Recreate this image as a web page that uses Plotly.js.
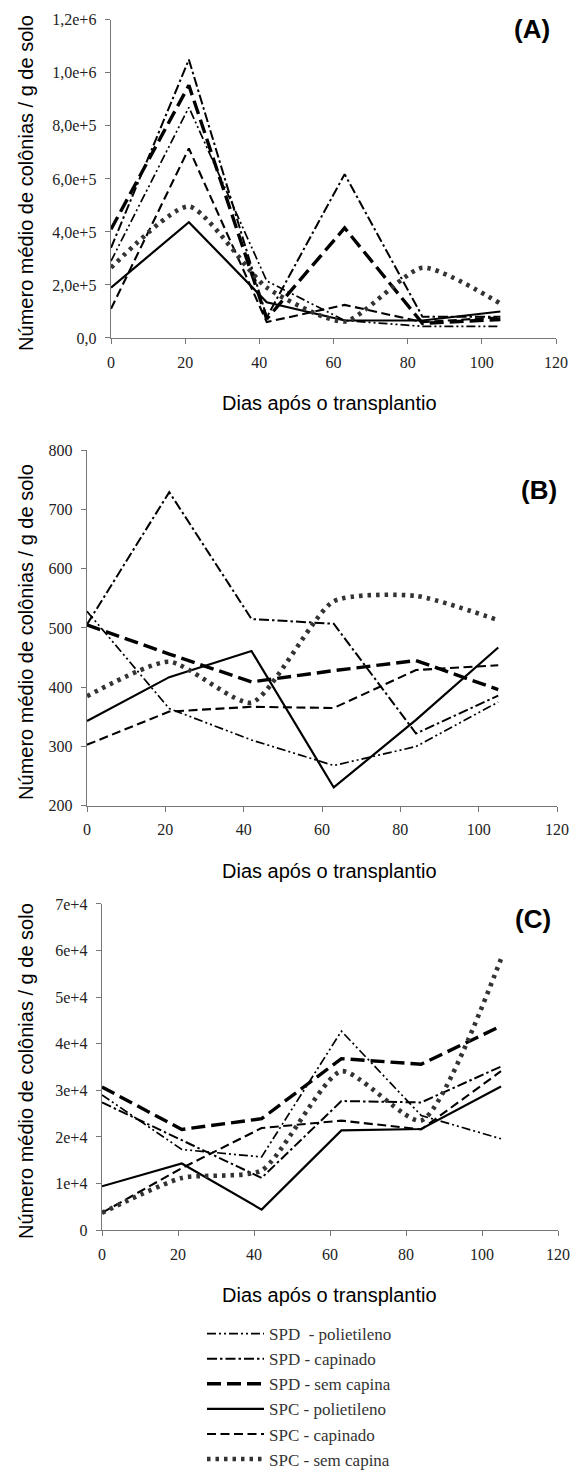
<!DOCTYPE html>
<html>
<head>
<meta charset="utf-8">
<script src="https://cdn.plot.ly/plotly-3.0.1.min.js"></script>
<style>html,body{margin:0;padding:0;background:#fff;}#chart{width:571px;height:1477px;}</style>
</head>
<body>
<div id="chart"></div>
<script>
// ---- data ----
const days = [0, 21, 42, 63, 84, 105];
const seriesNames = ['SPD  - polietileno', 'SPD - capinado', 'SPD - sem capina', 'SPC - polietileno', 'SPC - capinado', 'SPC - sem capina'];

// Panel A
const A_spdPolietileno = [290000, 870000, 215000, 66000, 44000, 44000];
const A_spdCapinado    = [340000, 1050000, 78000, 618000, 80000, 80000];
const A_spdSemCapina   = [410000, 953000, 72000, 415000, 55000, 70000];
const A_spcPolietileno = [190000, 437000, 135000, 66000, 66000, 100000];
const A_spcCapinado    = [110000, 715000, 60000, 125000, 60000, 78000];
const A_spcSemCapina   = [265000, 496000, 190000, 62000, 265000, 130000];

// Panel B
const B_spdPolietileno = [528, 364, 311, 268, 300, 375];
const B_spdCapinado    = [506, 729, 515, 507, 322, 386];
const B_spdSemCapina   = [505, 456, 409, 428, 445, 396];
const B_spcPolietileno = [343, 417, 461, 231, 345, 467];
const B_spcCapinado    = [303, 359, 367, 365, 429, 437];
const B_spcSemCapina   = [385, 443, 374, 545, 554, 513];

// Panel C
const C_spdPolietileno = [29000, 17300, 15700, 42700, 24600, 19600];
const C_spdCapinado    = [27400, 19300, 11200, 27700, 27400, 35100];
const C_spdSemCapina   = [30700, 21600, 23900, 36800, 35600, 43800];
const C_spcPolietileno = [9400, 14300, 4400, 21400, 21700, 30800];
const C_spcCapinado    = [3700, 13300, 21900, 23500, 21600, 34100];
const C_spcSemCapina   = [3700, 11200, 12800, 34100, 23500, 58200];

// tick labels
const xTickVals = [0, 20, 40, 60, 80, 100, 120];
const A_yTickVals = [0, 200000, 400000, 600000, 800000, 1000000, 1200000];
const A_yTickText = ['0,0', '2,0e+5', '4,0e+5', '6,0e+5', '8,0e+5', '1,0e+6', '1,2e+6'];
const B_yTickVals = [200, 300, 400, 500, 600, 700, 800];
const C_yTickVals = [0, 10000, 20000, 30000, 40000, 50000, 60000, 70000];
const C_yTickText = ['0', '1e+4', '2e+4', '3e+4', '4e+4', '5e+4', '6e+4', '7e+4'];

const yTitle = 'Número médio de colônias / g de solo';
const xTitle = 'Dias após o transplantio';
const panelLabels = ['(A)', '(B)', '(C)'];

// ---- styles ----
const styles = [
  {dash: '9px,3px,2px,3px,2px,3px', width: 1.7, color: '#000'},
  {dash: '10px,3px,2.5px,3px', width: 2, color: '#000'},
  {dash: '14px,6px', width: 3.4, color: '#000'},
  {dash: 'solid', width: 2.2, color: '#000'},
  {dash: '9px,4.5px', width: 2.1, color: '#000'},
  {dash: '3.5px,5px', width: 4.6, color: '#333'}
];

const panels = [
  {data: [A_spdPolietileno, A_spdCapinado, A_spdSemCapina, A_spcPolietileno, A_spcCapinado, A_spcSemCapina], xa: 'x', ya: 'y'},
  {data: [B_spdPolietileno, B_spdCapinado, B_spdSemCapina, B_spcPolietileno, B_spcCapinado, B_spcSemCapina], xa: 'x2', ya: 'y2'},
  {data: [C_spdPolietileno, C_spdCapinado, C_spdSemCapina, C_spcPolietileno, C_spcCapinado, C_spcSemCapina], xa: 'x3', ya: 'y3'}
];

const traces = [];
panels.forEach((p, pi) => {
  p.data.forEach((vals, si) => {
    const st = styles[si];
    traces.push({
      type: 'scatter', mode: 'lines', x: days, y: vals,
      xaxis: p.xa, yaxis: p.ya,
      name: seriesNames[si], legendgroup: 'g' + si,
      showlegend: pi === 2,
      line: {color: st.color, width: st.width, dash: st.dash, shape: si === 5 ? 'spline' : 'linear', smoothing: 0.6},
      hoverinfo: 'skip'
    });
  });
});

const W = 571, H = 1477;
const px = v => v / W;
const py = v => 1 - v / H;

const tickFont = {family: 'Liberation Serif, Times New Roman, serif', size: 16, color: '#222'};
function xAx(d0, d1, anchor) {
  return {domain: [px(d0), px(d1)], anchor: anchor, range: [0, 120], tickvals: xTickVals,
    ticks: 'outside', ticklen: 5, tickcolor: '#777', showline: true, linecolor: '#777', linewidth: 1.4,
    ticklabelstandoff: 4,
    showgrid: false, zeroline: false, tickfont: tickFont, fixedrange: true};
}
function yAx(top, bottom, anchor, range, tv, tt) {
  const a = {domain: [py(bottom), py(top)], anchor: anchor, range: range, tickvals: tv,
    ticks: 'outside', ticklen: 5, tickcolor: '#777', showline: true, linecolor: '#777', linewidth: 1.4,
    ticklabelstandoff: 5,
    showgrid: false, zeroline: false, tickfont: tickFont, fixedrange: true};
  if (tt) a.ticktext = tt;
  return a;
}

const titleFont = {family: 'Liberation Sans, Arial, sans-serif', size: 20, color: '#000'};
const labelFont = {family: 'Liberation Sans, Arial, sans-serif', size: 26, color: '#000'};

const geo = [
  {xl: 111, xr: 556, yt: 20, yb: 341, xt: 407, lab: [532, 29]},
  {xl: 87, xr: 557, yt: 454, yb: 813, xt: 879, lab: [539, 494]},
  {xl: 102, xr: 558, yt: 912, yb: 1241, xt: 1307, lab: [533, 927]}
];

const annotations = [];
geo.forEach((g, i) => {
  annotations.push({text: yTitle, xref: 'paper', yref: 'paper', x: px(26), y: py((g.yt + g.yb) / 2 + 4),
    textangle: -90, showarrow: false, font: titleFont, xanchor: 'center', yanchor: 'middle'});
  annotations.push({text: xTitle, xref: 'paper', yref: 'paper', x: px(329), y: py(g.xt),
    showarrow: false, font: titleFont, xanchor: 'center', yanchor: 'middle'});
  annotations.push({text: '<b>' + panelLabels[i] + '</b>', xref: 'paper', yref: 'paper', x: px(g.lab[0]), y: py(g.lab[1]),
    showarrow: false, font: labelFont, xanchor: 'center', yanchor: 'middle'});
});

const layout = {
  width: W, height: H,
  margin: {l: 0, r: 0, t: 0, b: 0},
  paper_bgcolor: '#fff', plot_bgcolor: '#fff',
  showlegend: true,
  legend: {x: px(202), y: py(1328), xanchor: 'left', yanchor: 'top', traceorder: 'grouped', tracegroupgap: 0,
    itemwidth: 57, font: {family: 'Liberation Serif, Times New Roman, serif', size: 17, color: '#333'},
    bgcolor: 'rgba(0,0,0,0)', borderwidth: 0, itemclick: false, itemdoubleclick: false},
  xaxis: xAx(geo[0].xl, geo[0].xr, 'y'),
  yaxis: yAx(geo[0].yt, geo[0].yb, 'x', [0, 1200000], A_yTickVals, A_yTickText),
  xaxis2: xAx(geo[1].xl, geo[1].xr, 'y2'),
  yaxis2: yAx(geo[1].yt, geo[1].yb, 'x2', [200, 800], B_yTickVals, null),
  xaxis3: xAx(geo[2].xl, geo[2].xr, 'y3'),
  yaxis3: yAx(geo[2].yt, geo[2].yb, 'x3', [0, 70000], C_yTickVals, C_yTickText),
  annotations: annotations
};

Plotly.newPlot('chart', traces, layout, {staticPlot: true, displayModeBar: false});
</script>
</body>
</html>
